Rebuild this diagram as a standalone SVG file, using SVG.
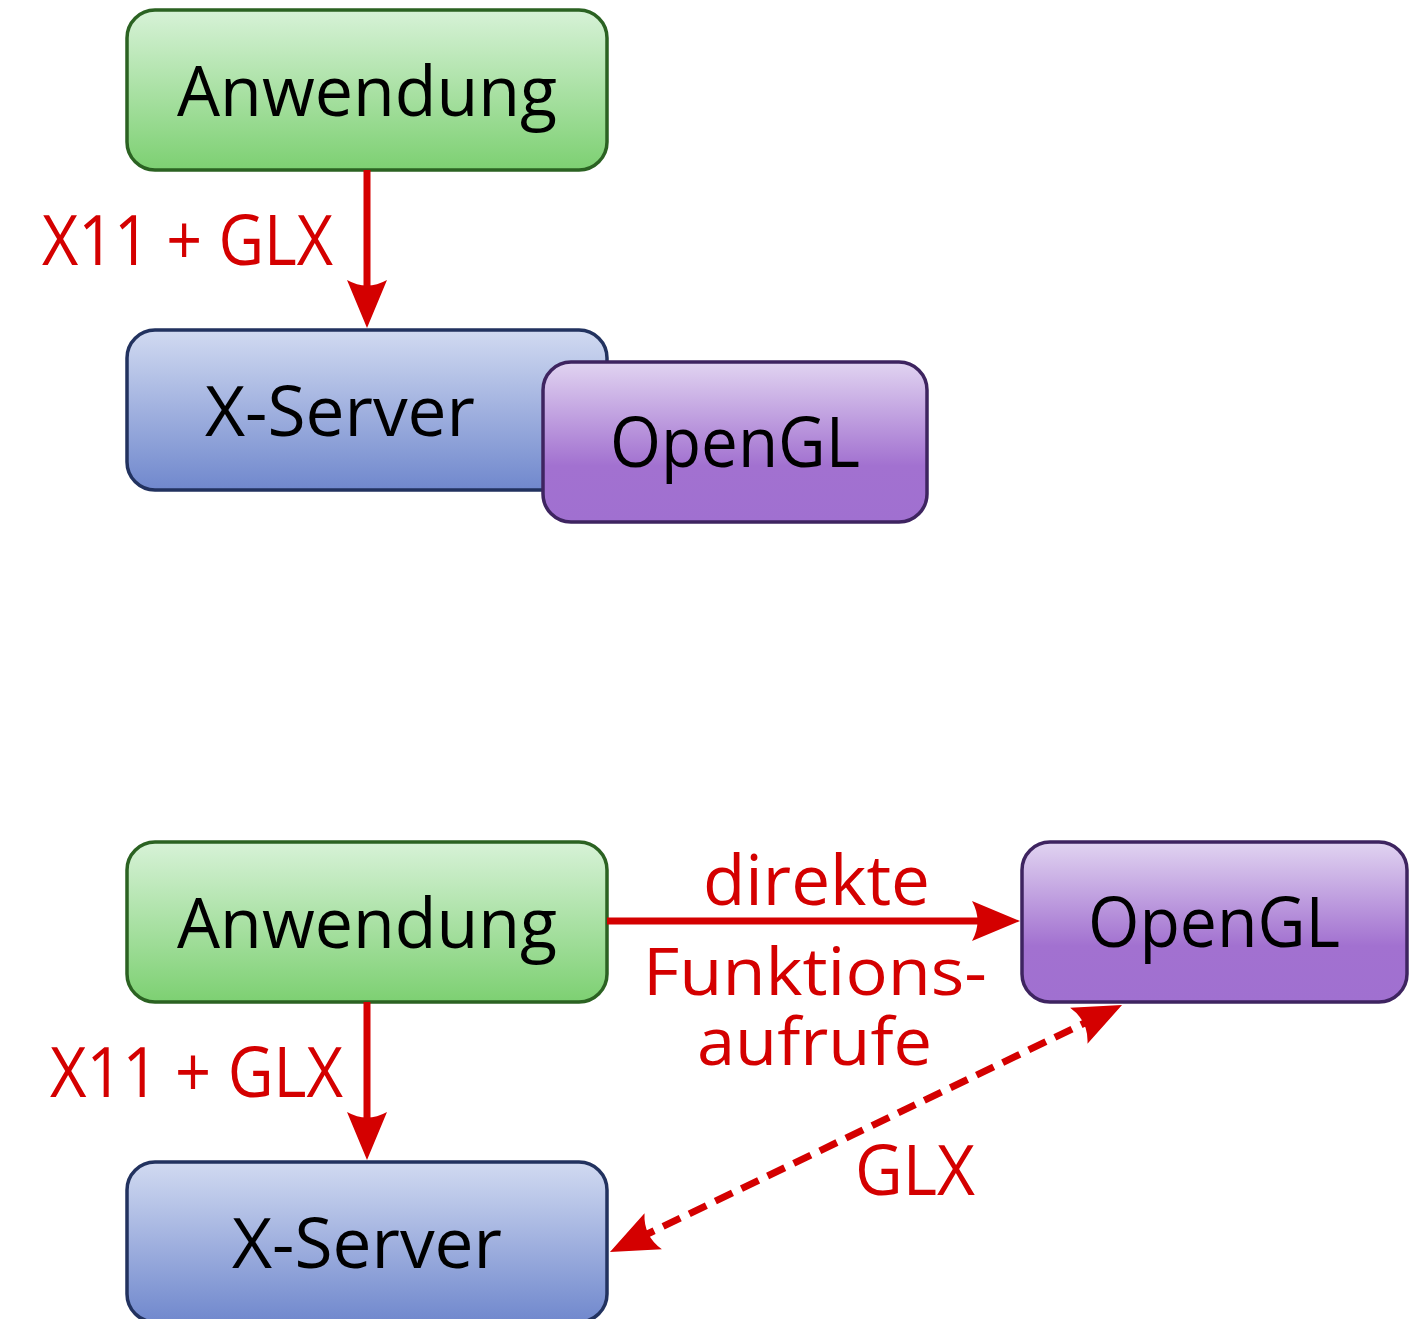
<svg xmlns="http://www.w3.org/2000/svg" width="1415" height="1319" viewBox="0 0 1415 1319">
  <defs>
    <linearGradient id="gGreen" x1="0" y1="0" x2="0" y2="1">
      <stop offset="0" stop-color="#d7f2d7"/>
      <stop offset="1" stop-color="#7dd072"/>
    </linearGradient>
    <linearGradient id="gBlue" x1="0" y1="0" x2="0" y2="1">
      <stop offset="0" stop-color="#d1daf1"/>
      <stop offset="1" stop-color="#7088cd"/>
    </linearGradient>
    <linearGradient id="gPurple" x1="0" y1="0" x2="0" y2="1">
      <stop offset="0" stop-color="#e1d4f1"/>
      <stop offset="0.65" stop-color="#a271d0"/>
      <stop offset="1" stop-color="#a070d0"/>
    </linearGradient>
    <marker id="arrow" markerUnits="userSpaceOnUse" orient="auto-start-reverse" refX="0" refY="0" markerWidth="90" markerHeight="90" overflow="visible">
      <path d="M30,0 L-18,-20 Q-7,0 -18,20 Z" fill="#d40000"/>
    </marker>
    <style>
      .box { stroke-width: 3.5; }
      .green { fill: url(#gGreen); stroke: #2b6222; }
      .blue { fill: url(#gBlue); stroke: #22325f; }
      .purple { fill: url(#gPurple); stroke: #3e2460; }
      .label { font-family: "Open Sans", "Noto Sans", "DejaVu Sans", sans-serif; font-size: 70px; fill: #000000; }
      .red { font-family: "Open Sans", "Noto Sans", "DejaVu Sans", sans-serif; font-size: 70px; fill: #d40000; }
      .tight { font-size: 66px; }
      .conn { fill: none; stroke: #d40000; stroke-width: 7; }
      .dashed { stroke-dasharray: 19 10; }
    </style>
  </defs>

  <!-- upper scenario: indirect rendering -->
  <g id="top-anwendung">
    <rect class="box green" x="127" y="10" width="480" height="160" rx="28"/>
    <text class="label" x="177" y="116" textLength="380" lengthAdjust="spacingAndGlyphs">Anwendung</text>
  </g>
  <g id="top-xserver">
    <rect class="box blue" x="127" y="330" width="480" height="160" rx="28"/>
    <text class="label" x="205" y="436" textLength="270" lengthAdjust="spacingAndGlyphs">X-Server</text>
  </g>
  <g id="top-opengl">
    <rect class="box purple" x="543" y="362" width="384" height="160" rx="28"/>
    <text class="label" x="610" y="467" textLength="250" lengthAdjust="spacingAndGlyphs">OpenGL</text>
  </g>

  <!-- lower scenario: direct rendering -->
  <g id="bottom-anwendung">
    <rect class="box green" x="127" y="842" width="480" height="160" rx="28"/>
    <text class="label" x="177" y="948" textLength="380" lengthAdjust="spacingAndGlyphs">Anwendung</text>
  </g>
  <g id="bottom-opengl">
    <rect class="box purple" x="1022" y="842" width="385" height="160" rx="28"/>
    <text class="label" x="1088" y="947" textLength="252" lengthAdjust="spacingAndGlyphs">OpenGL</text>
  </g>
  <g id="bottom-xserver">
    <rect class="box blue" x="127" y="1162" width="480" height="160" rx="28"/>
    <text class="label" x="232" y="1268" textLength="270" lengthAdjust="spacingAndGlyphs">X-Server</text>
  </g>

  <!-- connectors -->
  <g id="connectors">
    <line class="conn" x1="367" y1="170" x2="367" y2="298" marker-end="url(#arrow)"/>
    <line class="conn" x1="367" y1="1002" x2="367" y2="1130" marker-end="url(#arrow)"/>
    <line class="conn" x1="607" y1="921" x2="990" y2="921" marker-end="url(#arrow)"/>
    <line class="conn dashed" x1="637" y1="1239" x2="1095" y2="1018" marker-start="url(#arrow)" marker-end="url(#arrow)"/>

    <text class="red" x="42" y="265" textLength="291" lengthAdjust="spacingAndGlyphs">X11 + GLX</text>
    <text class="red" x="50" y="1097" textLength="293" lengthAdjust="spacingAndGlyphs">X11 + GLX</text>
    <text class="red" x="703" y="905" textLength="227" lengthAdjust="spacingAndGlyphs">direkte</text>
    <!-- two-line label below the direct-call arrow -->
    <text class="red tight"><tspan x="643" y="995" textLength="344" lengthAdjust="spacingAndGlyphs">Funktions-</tspan><tspan x="697" y="1065" textLength="235" lengthAdjust="spacingAndGlyphs">aufrufe</tspan></text>
    <text class="red" x="855" y="1195" textLength="120" lengthAdjust="spacingAndGlyphs">GLX</text>
  </g>
</svg>
